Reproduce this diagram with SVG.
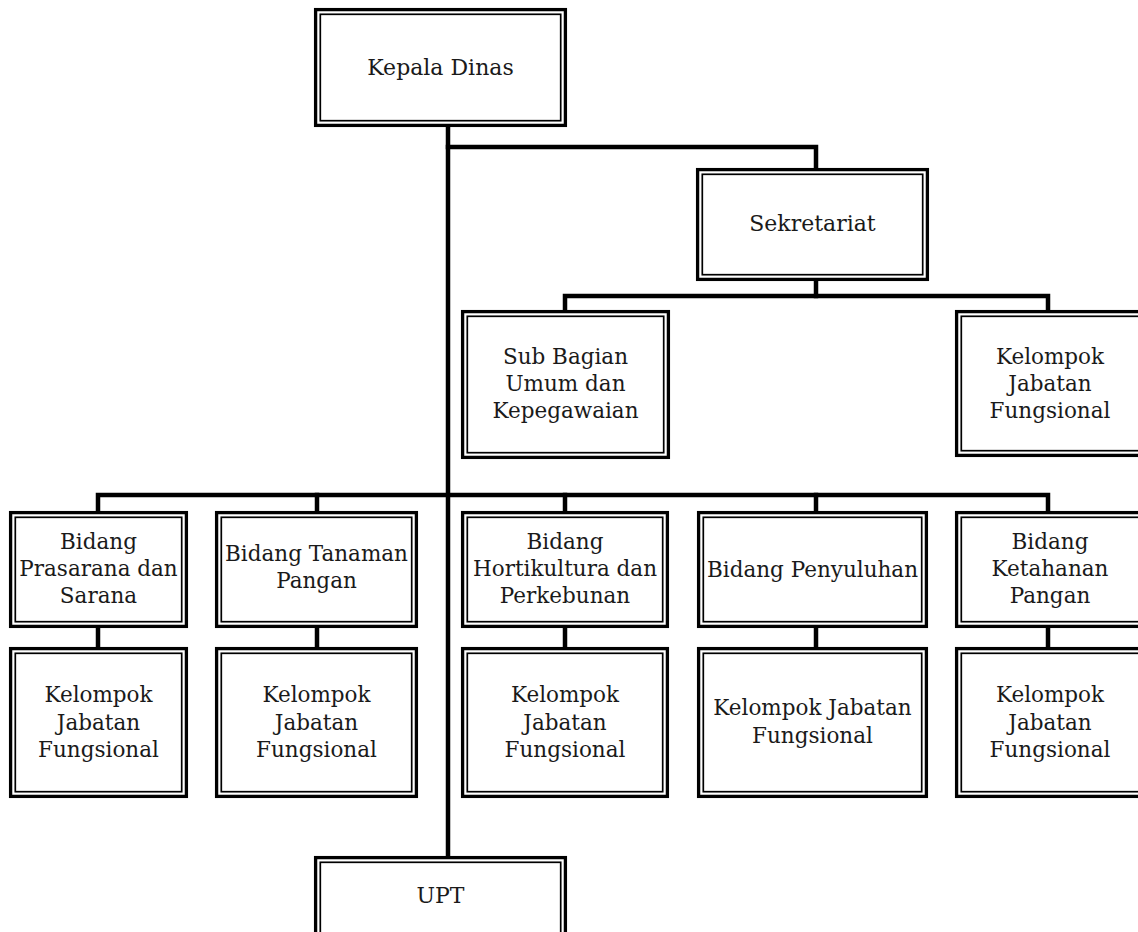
<svg xmlns="http://www.w3.org/2000/svg" width="1138" height="932" viewBox="0 0 1138 932">
  <style>
    .outer { fill: #ffffff; stroke: #000000; stroke-width: 3.3; }
    .inner { fill: none; stroke: #000000; stroke-width: 1.7; }
    .link { fill: none; stroke: #000000; stroke-width: 4.5; stroke-linecap: square; stroke-linejoin: miter; }
    text { font-family: "DejaVu Serif", "Liberation Serif", serif; font-size: 21.5px; fill: #1a1a1a; text-anchor: middle; }
    .big { font-size: 22px; }
  </style>

  <rect x="0" y="0" width="1138" height="932" fill="#ffffff"/>

  <!-- connectors -->
  <g id="connectors">
    <!-- main trunk -->
    <path class="link" d="M448 127 V856"/>
    <!-- to Sekretariat -->
    <path class="link" d="M448 147 H816 V168"/>
    <!-- Sekretariat to its units -->
    <path class="link" d="M816 281 V296"/>
    <path class="link" d="M565 310 V296 H1048 V310"/>
    <!-- bidang bus -->
    <path class="link" d="M98 511 V495 H1048 V511"/>
    <path class="link" d="M317 495 V511"/>
    <path class="link" d="M565 495 V511"/>
    <path class="link" d="M816 495 V511"/>
    <!-- bidang to functional groups -->
    <path class="link" d="M98 628 V647"/>
    <path class="link" d="M317 628 V647"/>
    <path class="link" d="M565 628 V647"/>
    <path class="link" d="M816 628 V647"/>
    <path class="link" d="M1048 628 V647"/>
  </g>

  <!-- nodes: outer thick frame + inner thin frame -->
  <g id="kepala-dinas">
    <rect class="outer" x="315.6" y="9.6" width="249.8" height="115.8"/>
    <rect class="inner" x="320.3" y="14.3" width="240.4" height="106.4"/>
    <text class="big" x="440.5" y="75">Kepala Dinas</text>
  </g>

  <g id="sekretariat">
    <rect class="outer" x="697.6" y="169.6" width="229.8" height="109.8"/>
    <rect class="inner" x="702.3" y="174.3" width="220.4" height="100.4"/>
    <text class="big" x="812.5" y="231">Sekretariat</text>
  </g>

  <g id="subbag-umum">
    <rect class="outer" x="462.6" y="311.6" width="205.8" height="145.8"/>
    <rect class="inner" x="467.3" y="316.3" width="196.4" height="136.4"/>
    <text x="565.5" y="364">Sub Bagian</text>
    <text x="565.5" y="391">Umum dan</text>
    <text x="565.5" y="418">Kepegawaian</text>
  </g>

  <g id="jf-sekretariat">
    <rect class="outer" x="956.6" y="311.6" width="190" height="143.8"/>
    <rect class="inner" x="961.3" y="316.3" width="180" height="134.4"/>
    <text x="1050" y="364">Kelompok</text>
    <text x="1050" y="391">Jabatan</text>
    <text x="1050" y="418">Fungsional</text>
  </g>

  <g id="bidang-prasarana">
    <rect class="outer" x="10.6" y="512.6" width="175.8" height="113.8"/>
    <rect class="inner" x="15.3" y="517.3" width="166.4" height="104.4"/>
    <text x="98.5" y="549">Bidang</text>
    <text x="98.5" y="576">Prasarana dan</text>
    <text x="98.5" y="603">Sarana</text>
  </g>

  <g id="bidang-tanaman">
    <rect class="outer" x="216.6" y="512.6" width="199.8" height="113.8"/>
    <rect class="inner" x="221.3" y="517.3" width="190.4" height="104.4"/>
    <text x="316.5" y="561">Bidang Tanaman</text>
    <text x="316.5" y="588">Pangan</text>
  </g>

  <g id="bidang-hortikultura">
    <rect class="outer" x="462.6" y="512.6" width="204.8" height="113.8"/>
    <rect class="inner" x="467.3" y="517.3" width="195.4" height="104.4"/>
    <text x="565" y="549">Bidang</text>
    <text x="565" y="576">Hortikultura dan</text>
    <text x="565" y="603">Perkebunan</text>
  </g>

  <g id="bidang-penyuluhan">
    <rect class="outer" x="698.6" y="512.6" width="227.8" height="113.8"/>
    <rect class="inner" x="703.3" y="517.3" width="218.4" height="104.4"/>
    <text x="812.5" y="577">Bidang Penyuluhan</text>
  </g>

  <g id="bidang-ketahanan">
    <rect class="outer" x="956.6" y="512.6" width="190" height="113.8"/>
    <rect class="inner" x="961.3" y="517.3" width="180" height="104.4"/>
    <text x="1050" y="549">Bidang</text>
    <text x="1050" y="576">Ketahanan</text>
    <text x="1050" y="603">Pangan</text>
  </g>

  <g id="jf-prasarana">
    <rect class="outer" x="10.6" y="648.6" width="175.8" height="147.8"/>
    <rect class="inner" x="15.3" y="653.3" width="166.4" height="138.4"/>
    <text x="98.5" y="702">Kelompok</text>
    <text x="98.5" y="730">Jabatan</text>
    <text x="98.5" y="757">Fungsional</text>
  </g>

  <g id="jf-tanaman">
    <rect class="outer" x="216.6" y="648.6" width="199.8" height="147.8"/>
    <rect class="inner" x="221.3" y="653.3" width="190.4" height="138.4"/>
    <text x="316.5" y="702">Kelompok</text>
    <text x="316.5" y="730">Jabatan</text>
    <text x="316.5" y="757">Fungsional</text>
  </g>

  <g id="jf-hortikultura">
    <rect class="outer" x="462.6" y="648.6" width="204.8" height="147.8"/>
    <rect class="inner" x="467.3" y="653.3" width="195.4" height="138.4"/>
    <text x="565" y="702">Kelompok</text>
    <text x="565" y="730">Jabatan</text>
    <text x="565" y="757">Fungsional</text>
  </g>

  <g id="jf-penyuluhan">
    <rect class="outer" x="698.6" y="648.6" width="227.8" height="147.8"/>
    <rect class="inner" x="703.3" y="653.3" width="218.4" height="138.4"/>
    <text x="812.5" y="715">Kelompok Jabatan</text>
    <text x="812.5" y="743">Fungsional</text>
  </g>

  <g id="jf-ketahanan">
    <rect class="outer" x="956.6" y="648.6" width="190" height="147.8"/>
    <rect class="inner" x="961.3" y="653.3" width="180" height="138.4"/>
    <text x="1050" y="702">Kelompok</text>
    <text x="1050" y="730">Jabatan</text>
    <text x="1050" y="757">Fungsional</text>
  </g>

  <g id="upt">
    <rect class="outer" x="315.6" y="857.6" width="249.8" height="110"/>
    <rect class="inner" x="320.3" y="862.3" width="240.4" height="100"/>
    <text class="big" x="440.5" y="903">UPT</text>
  </g>
</svg>
